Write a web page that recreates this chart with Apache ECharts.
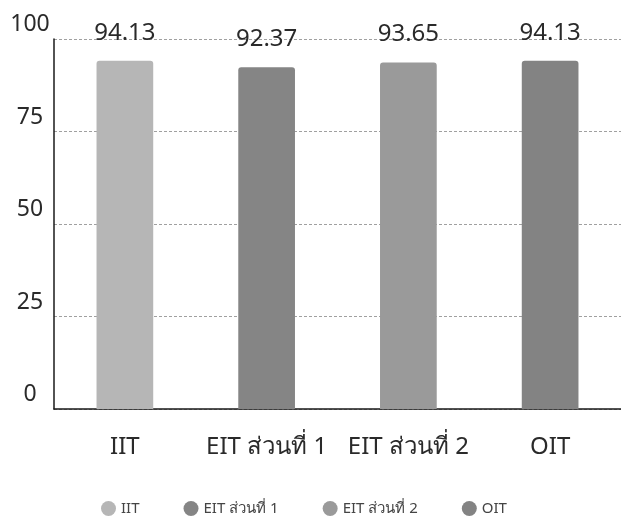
<!DOCTYPE html>
<html>
<head>
<meta charset="utf-8">
<script src="https://cdn.jsdelivr.net/npm/echarts@6/dist/echarts.min.js"></script>
<style>
  html, body { margin: 0; padding: 0; background: #fff; }
  #chart { width: 621px; height: 521px; }
</style>
</head>
<body>
<div id="chart"></div>
<script>
// Scores per assessment part
const categories = ['IIT', 'EIT ส่วนที่ 1', 'EIT ส่วนที่ 2', 'OIT'];
const scores = [94.13, 92.37, 93.65, 94.13];
const yTicks = [0, 25, 50, 75, 100];
const barColors = ['#b6b6b6', '#858585', '#9a9a9a', '#838383'];

const FONT = '"Noto Sans", "Open Sans", sans-serif';

// One series per category so each bar gets its own legend entry;
// stacking keeps every bar centred in its own slot.
const series = categories.map((name, i) => ({
  name: name,
  type: 'bar',
  stack: 'all',
  barWidth: '40%',
  data: categories.map((_, j) => (j === i ? scores[i] : null)),
  itemStyle: { color: barColors[i], borderRadius: [3, 3, 0, 0] },
  label: {
    show: true,
    position: 'top',
    distance: 16,
    fontFamily: FONT,
    fontSize: 24,
    color: '#2a2a2a',
    formatter: (p) => p.value.toFixed(2)
  }
}));

const chart = echarts.init(document.getElementById('chart'), null, { renderer: 'canvas' });
chart.setOption({
  animation: false,
  backgroundColor: '#ffffff',
  color: barColors,
  grid: { left: 54, right: -5, top: 39, bottom: 112, containLabel: false },
  legend: {
    data: categories,
    icon: 'circle',
    itemWidth: 15,
    itemHeight: 15,
    itemGap: 44,
    left: 96,
    top: 496,
    textStyle: { fontFamily: FONT, fontSize: 15, color: '#444' }
  },
  xAxis: {
    type: 'category',
    data: categories,
    axisLine: { lineStyle: { color: '#1a1a1a', width: 1.5 } },
    axisTick: { show: false },
    axisLabel: { interval: 0, fontFamily: FONT, fontSize: 24, color: '#2a2a2a', margin: 26 }
  },
  yAxis: {
    type: 'value',
    min: yTicks[0],
    max: yTicks[yTicks.length - 1],
    interval: yTicks[1] - yTicks[0],
    axisLine: { show: true, lineStyle: { color: '#1a1a1a', width: 1.5 } },
    axisTick: { show: false },
    axisLabel: {
      fontFamily: FONT, fontSize: 23, color: '#2a2a2a', margin: 24,
      align: 'center', verticalAlign: 'bottom', padding: [0, 0, 3, 0]
    },
    splitLine: { lineStyle: { color: '#a0a0a0', type: [3, 2], width: 1 } }
  },
  series: series
});
</script>
</body>
</html>
